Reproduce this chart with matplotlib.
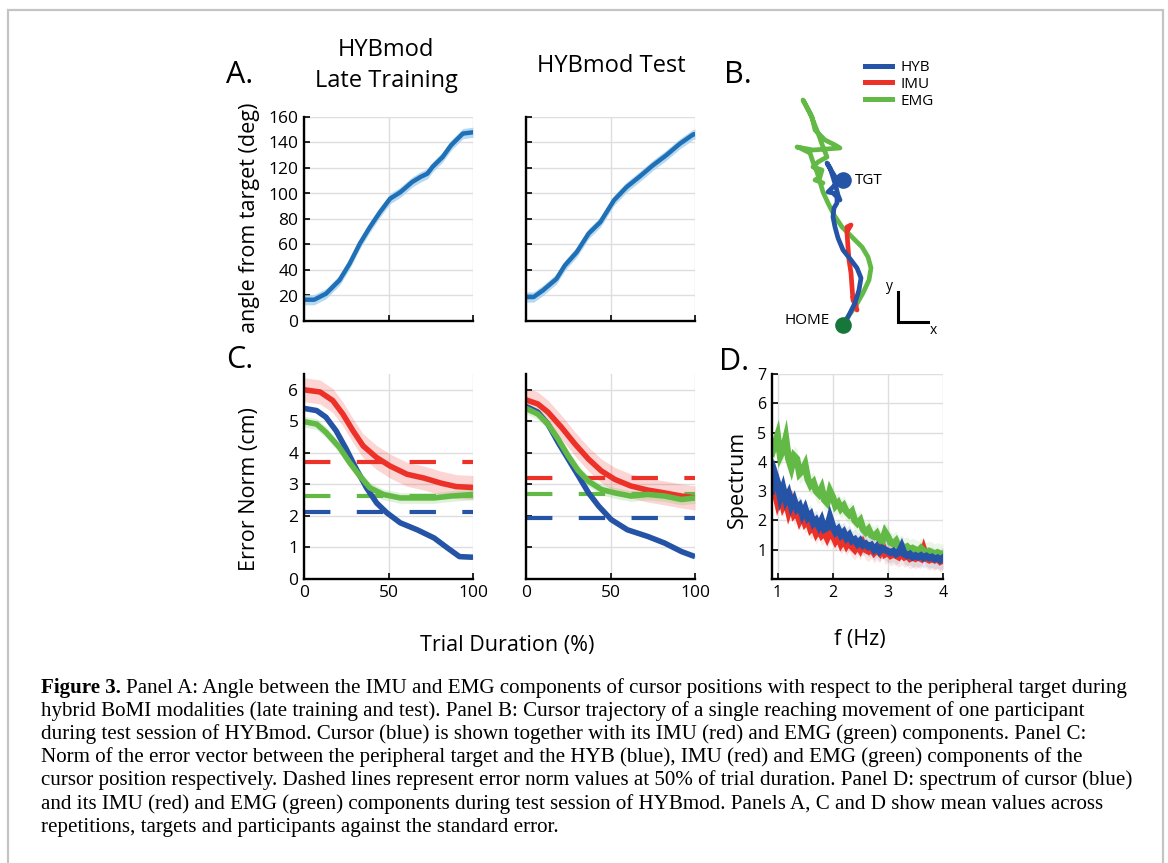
import numpy as np
import matplotlib
matplotlib.use('Agg')
import matplotlib.pyplot as plt
from matplotlib.lines import Line2D
from matplotlib.patches import Rectangle

plt.rcParams['font.family'] = ['Open Sans', 'DejaVu Sans']
plt.rcParams['lines.scale_dashes'] = False

W, H = 1168, 863

# ---------------- Panel A data (angle from target, deg) ----------------
a_train_x = [0, 6, 13, 21, 27, 33, 39, 45, 51, 57, 64, 69, 73, 76, 82, 87, 94, 100]
a_train_y = [16.7, 16.7, 21.4, 32, 45, 60.6, 73.7, 85.5, 96, 101, 109, 113, 115.6, 120.8, 128.6, 137.8, 147, 148]
a_test_x = [0, 4.5, 10, 18, 23, 30, 37, 44, 52, 59.5, 67, 75, 83, 91, 99, 100]
a_test_y = [18.8, 18.8, 24, 33, 43.6, 54, 68.5, 77.6, 94.6, 105, 113, 122, 130, 139, 146.4, 146.5]
a_se = 4.0

# ---------------- Panel C data (error norm, cm) ----------------
c_left = {
    'IMU': ([0, 9.5, 17, 23, 29, 35, 43, 51, 61, 71, 81, 90, 100],
            [6.0, 5.93, 5.66, 5.23, 4.7, 4.22, 3.85, 3.58, 3.32, 3.2, 3.04, 2.93, 2.9]),
    'HYB': ([0, 7.5, 13, 19, 25, 31, 37, 43, 49, 57, 67, 77, 85, 92, 100],
            [5.41, 5.34, 5.13, 4.7, 4.12, 3.48, 2.89, 2.41, 2.1, 1.78, 1.56, 1.30, 0.98, 0.71, 0.69]),
    'EMG': ([0, 7.5, 13, 21, 27, 33, 39, 47, 57, 67, 77, 87, 100],
            [4.99, 4.91, 4.65, 4.17, 3.69, 3.27, 2.89, 2.68, 2.57, 2.57, 2.57, 2.63, 2.68]),
}
c_right = {
    'IMU': ([0, 7, 13, 21, 29, 37, 44.5, 52.5, 62, 72, 82, 92, 100],
            [5.68, 5.55, 5.29, 4.81, 4.28, 3.80, 3.43, 3.16, 2.95, 2.82, 2.73, 2.63, 2.57]),
    'HYB': ([0, 7, 13, 19, 25, 31, 37, 43, 50.5, 60, 72, 82, 92, 100],
            [5.47, 5.29, 4.91, 4.33, 3.80, 3.27, 2.73, 2.31, 1.88, 1.56, 1.35, 1.14, 0.87, 0.71]),
    'EMG': ([0, 7, 13, 19, 25, 31, 37, 44.5, 52.5, 62, 72, 82, 92, 100],
            [5.41, 5.23, 4.91, 4.44, 3.9, 3.43, 3.1, 2.84, 2.73, 2.63, 2.68, 2.63, 2.52, 2.57]),
}
c_se = {'IMU': 0.38, 'HYB': 0.06, 'EMG': 0.17}
c_mid_left = {'IMU': 3.72, 'EMG': 2.63, 'HYB': 2.12}
c_mid_right = {'IMU': 3.19, 'EMG': 2.68, 'HYB': 1.94}

# ---------------- Panel B data (trajectory, cm; HOME at origin) ----------------
b_emg_x = [0.0, 0.4, 1.2, 2.0, 2.6, 2.8, 2.5, 1.9, 0.9, -0.1, -0.9, -1.5, -2.0, -2.3, -2.6, -3.0, -3.3, -4.3,
           -4.6, -3.0, -0.3, -0.8, -1.8, -2.8, -3.1, -4.0, -3.3, -2.5, -2.0, -1.6, -2.5, -3.0, -2.1, -2.3, -2.8, -2.0]
b_emg_y = [0.0, 0.7, 1.8, 3.2, 4.5, 5.7, 6.8, 7.8, 8.8, 9.8, 11.0, 12.2, 13.3, 14.3, 15.3, 16.3, 17.2, 17.7,
           17.8, 17.5, 17.7, 18.0, 18.5, 19.5, 20.8, 22.5, 21.2, 19.2, 17.8, 16.8, 16.3, 15.8, 15.5, 14.8, 14.5, 14.2]
b_imu_x = [1.4, 1.0, 1.3, 1.0, 0.9, 0.8, 0.6, 0.5, 0.4, 0.4, 0.8, 0.5]
b_imu_y = [1.5, 2.8, 1.9, 2.5, 3.8, 5.2, 6.5, 7.8, 9.2, 9.8, 10.0, 9.5]
b_hyb_x = [0.2, 0.6, 1.2, 1.6, 1.8, 1.4, 0.8, 0.0, -0.5, -0.8, -1.0, -0.9, -0.6, -0.6, -1.0, -1.5, -1.1,
           -0.8, -0.6, -0.9, -1.2, -1.5, -1.6, -1.3, -1.0, -0.7, -0.5, -0.3]
b_hyb_y = [0.2, 1.0, 2.2, 3.5, 4.7, 5.7, 6.5, 7.5, 8.7, 9.8, 10.8, 11.7, 12.2, 12.8, 13.2, 13.3, 13.7,
           14.0, 14.5, 15.0, 15.5, 16.0, 16.2, 15.7, 14.8, 13.8, 13.0, 12.5]
b_home = (0.0, 0.0)
b_tgt = (0.0, 14.5)

# ---------------- Panel D data (spectrum) ----------------
d_freq = np.linspace(0.90, 4.00, 63)
d_emg = [4.3, 4.6, 4.9, 4.2, 4.4, 4.8, 4.1, 3.8, 4.2, 4.1, 3.6, 3.7, 3.9, 3.4, 3.2, 3.3, 3.0, 2.9, 3.1, 2.7,
         2.6, 3.0, 2.8, 2.5, 2.6, 2.4, 2.5, 2.3, 2.2, 2.3, 2.0, 1.9, 2.0, 1.7, 1.6, 1.7, 1.5, 1.45, 1.55, 1.35,
         1.3, 1.6, 1.45, 1.25, 1.2, 1.3, 1.1, 1.15, 1.05, 1.1, 1.0, 1.05, 1.0, 0.95, 1.05, 0.95, 0.9, 0.95,
         0.9, 0.85, 0.9, 0.85, 0.85]
d_hyb = [3.0, 3.6, 3.3, 2.8, 3.1, 2.7, 2.9, 2.5, 2.7, 2.4, 2.5, 2.2, 2.4, 2.1, 2.2, 1.9, 2.0, 1.8, 2.0, 1.7,
         1.75, 2.1, 1.8, 1.6, 1.7, 1.5, 1.6, 1.4, 1.5, 1.3, 1.35, 1.2, 1.3, 1.15, 1.2, 1.1, 1.15, 1.0, 1.1, 0.95,
         1.05, 1.0, 0.95, 0.9, 0.95, 0.85, 0.9, 1.1, 0.85, 0.8, 0.85, 0.75, 0.8, 0.75, 0.8, 0.72, 0.78, 0.72,
         0.75, 0.68, 0.72, 0.65, 0.72]
d_imu = [3.3, 3.0, 2.6, 2.9, 2.5, 2.7, 2.3, 2.6, 2.2, 2.3, 2.0, 2.2, 1.9, 2.0, 1.7, 1.8, 1.55, 1.7, 1.5, 1.6,
         1.4, 1.6, 1.5, 1.3, 1.45, 1.2, 1.35, 1.15, 1.3, 1.1, 1.0, 1.15, 1.0, 1.2, 1.0, 0.95, 1.05, 0.9, 1.0, 0.9,
         1.15, 0.85, 0.9, 0.8, 0.85, 0.8, 0.75, 0.85, 0.75, 0.8, 0.7, 0.75, 0.7, 0.75, 0.7, 1.0, 0.7, 0.65,
         0.7, 0.65, 0.7, 0.6, 0.65]
d_se = 0.35

# ---------------- colours ----------------
COL = {'HYB': '#2553a5', 'IMU': '#ec3228', 'EMG': '#63b946'}
A_BLUE = '#1f70b6'
A_BAND = '#a9d3ef'
GRID = '#dedede'

fig = plt.figure(figsize=(W / 100, H / 100), dpi=100)


def px_axes(x0, y0, x1, y1):
    return fig.add_axes([x0 / W, 1 - y1 / H, (x1 - x0) / W, (y1 - y0) / H])


def ftext(x, y, s, **kw):
    return fig.text(x / W, 1 - y / H, s, **kw)


def style(ax, labelsize=12.5):
    for s in ['top', 'right']:
        ax.spines[s].set_visible(False)
    for s in ['left', 'bottom']:
        ax.spines[s].set_linewidth(1.7)
        ax.spines[s].set_color('black')
        ax.spines[s].set_zorder(5)
    ax.grid(True, color=GRID, lw=1.0)
    ax.set_axisbelow(True)
    ax.tick_params(direction='in', length=4, width=1.2, labelsize=labelsize, pad=4, colors='black')


# border frame
fig.patches.append(Rectangle((8 / W, -0.05), (1163 - 8) / W, 1.05 - 10 / H, transform=fig.transFigure,
                             fill=False, edgecolor='#c4c4c4', lw=1.6))

# ---------------- Panel A ----------------
for (x0, x1), xs, ys, showy in [((304, 473), a_train_x, a_train_y, True),
                                ((526, 695), a_test_x, a_test_y, False)]:
    ax = px_axes(x0, 117, x1, 321)
    style(ax)
    xs = np.array(xs); ys = np.array(ys)
    ax.fill_between(xs, ys - a_se, ys + a_se, color=A_BAND, lw=0, alpha=0.85)
    ax.plot(xs, ys, color=A_BLUE, lw=3.2, solid_capstyle='round', solid_joinstyle='round')
    ax.set_xlim(0, 100)
    ax.set_ylim(0, 160)
    ax.set_xticks([0, 50, 100])
    ax.set_yticks(range(0, 161, 20))
    ax.set_xticklabels([])
    if not showy:
        ax.set_yticklabels([])

# ---------------- Panel C ----------------
for (x0, x1), data, mids, showy in [((304, 473), c_left, c_mid_left, True),
                                    ((526, 695), c_right, c_mid_right, False)]:
    ax = px_axes(x0, 374, x1, 579)
    style(ax)
    for key in ['IMU', 'EMG', 'HYB']:
        xs, ys = np.array(data[key][0]), np.array(data[key][1])
        ax.fill_between(xs, ys - c_se[key], ys + c_se[key], color=COL[key], lw=0, alpha=0.2)
    for key in ['IMU', 'EMG', 'HYB']:
        ax.plot([0, 100], [mids[key]] * 2, color=COL[key], lw=3.0, linestyle=(0, (19, 19)))
    for key in ['IMU', 'HYB', 'EMG']:
        xs, ys = data[key]
        ax.plot(xs, ys, color=COL[key], lw=4.0, solid_capstyle='butt', solid_joinstyle='round')
    ax.set_xlim(0, 100)
    ax.set_ylim(0, 6.5)
    ax.set_xticks([0, 50, 100])
    ax.set_yticks(range(0, 7))
    if not showy:
        ax.set_yticklabels([])

# ---------------- Panel D ----------------
ax = px_axes(772, 374, 943, 579)
style(ax, labelsize=11.5)
for key, vals in [('IMU', d_imu), ('EMG', d_emg), ('HYB', d_hyb)]:
    v = np.array(vals)
    ax.fill_between(d_freq, v - d_se, v + d_se, color=COL[key], lw=0, alpha=0.12)
for key, vals in [('IMU', d_imu), ('EMG', d_emg), ('HYB', d_hyb)]:
    ax.plot(d_freq, vals, color=COL[key], lw=5.0, solid_joinstyle='miter')
ax.set_xlim(0.9, 4.0)
ax.set_ylim(0, 7)
ax.set_xticks([1, 2, 3, 4])
ax.set_yticks(range(1, 8))

# ---------------- Panel B ----------------
axb = px_axes(760, 60, 960, 340)
axb.set_xlim(-8.3, 11.7)
axb.set_ylim(-1.5, 26.5)
axb.axis('off')
axb.plot(b_emg_x, b_emg_y, color=COL['EMG'], lw=3.4, solid_joinstyle='round', solid_capstyle='round')
axb.plot(b_imu_x, b_imu_y, color=COL['IMU'], lw=3.4, solid_joinstyle='round', solid_capstyle='round')
axb.plot(b_hyb_x, b_hyb_y, color=COL['HYB'], lw=3.4, solid_joinstyle='round', solid_capstyle='round')
axb.plot(*b_tgt, 'o', color=COL['HYB'], ms=12, mec='none')
axb.plot(*b_home, 'o', color='#17773a', ms=12, mec='none', zorder=5)
axb.text(1.2, 14.5, 'TGT', fontsize=11, va='center', ha='left')
axb.text(-1.3, 0.5, 'HOME', fontsize=11, va='center', ha='right')
axb.plot([5.5, 5.5, 8.5], [3.3, 0.3, 0.3], color='black', lw=2.2, solid_joinstyle='miter')
axb.text(5.0, 3.8, 'y', fontsize=10, ha='right', va='center')
axb.text(8.7, -0.6, 'x', fontsize=10, ha='left', va='center')
handles = [Line2D([], [], color=COL[k], lw=3.6) for k in ['HYB', 'IMU', 'EMG']]
fig.legend(handles, ['HYB', 'IMU', 'EMG'], loc='upper left', bbox_to_anchor=(865 / W, 1 - 60 / H),
           frameon=False, fontsize=11, handlelength=1.75, handletextpad=0.55, labelspacing=0.12,
           borderpad=0, borderaxespad=0)

# ---------------- Texts ----------------
ftext(386, 56, 'HYBmod', fontsize=17, ha='center', va='baseline')
ftext(386, 87, 'Late Training', fontsize=17, ha='center', va='baseline')
ftext(611, 72, 'HYBmod Test', fontsize=17, ha='center', va='baseline')
ftext(226, 83, 'A.', fontsize=22, ha='left', va='baseline')
ftext(724, 83, 'B.', fontsize=22, ha='left', va='baseline')
ftext(226, 368, 'C.', fontsize=22, ha='left', va='baseline')
ftext(719, 370, 'D.', fontsize=22, ha='left', va='baseline')
ftext(250, 218, 'angle from target (deg)', fontsize=15.5, rotation=90, ha='center', va='center')
ftext(249, 489, 'Error Norm (cm)', fontsize=15.5, rotation=90, ha='center', va='center')
ftext(737, 479, 'Spectrum', fontsize=15.5, rotation=90, ha='center', va='center')
ftext(507, 646, 'Trial Duration (%)', fontsize=15.5, ha='center', va='center')
ftext(860, 639, 'f (Hz)', fontsize=15.5, ha='center', va='center')

# ---------------- Caption ----------------
cap_bold = 'Figure 3.'
cap_lines = [
    'Panel A: Angle between the IMU and EMG components of cursor positions with respect to the peripheral target during',
    'hybrid BoMI modalities (late training and test). Panel B: Cursor trajectory of a single reaching movement of one participant',
    'during test session of HYBmod. Cursor (blue) is shown together with its IMU (red) and EMG (green) components. Panel C:',
    'Norm of the error vector between the peripheral target and the HYB (blue), IMU (red) and EMG (green) components of the',
    'cursor position respectively. Dashed lines represent error norm values at 50% of trial duration. Panel D: spectrum of cursor (blue)',
    'and its IMU (red) and EMG (green) components during test session of HYBmod. Panels A, C and D show mean values across',
    'repetitions, targets and participants against the standard error.',
]
cap_font = ['Liberation Serif', 'DejaVu Serif']
r = fig.canvas.get_renderer()
probe = fig.text(0, 0, cap_lines[4], fontsize=12, family=cap_font)
wprobe = probe.get_window_extent(r).width
probe.remove()
cap_size = 12 * (1130 - 41) / wprobe
x_cap = 41
base0 = 693
step = 23.1
tb = ftext(x_cap, base0, cap_bold, fontsize=cap_size, family=cap_font, weight='bold', va='baseline')
bw = tb.get_window_extent(r).width
for i, line in enumerate(cap_lines):
    xx = x_cap + (bw + cap_size * 1.39 * 0.25 if i == 0 else 0)
    ftext(xx, base0 + i * step, line, fontsize=cap_size, family=cap_font, va='baseline')

fig.savefig('out.png', dpi=100)
